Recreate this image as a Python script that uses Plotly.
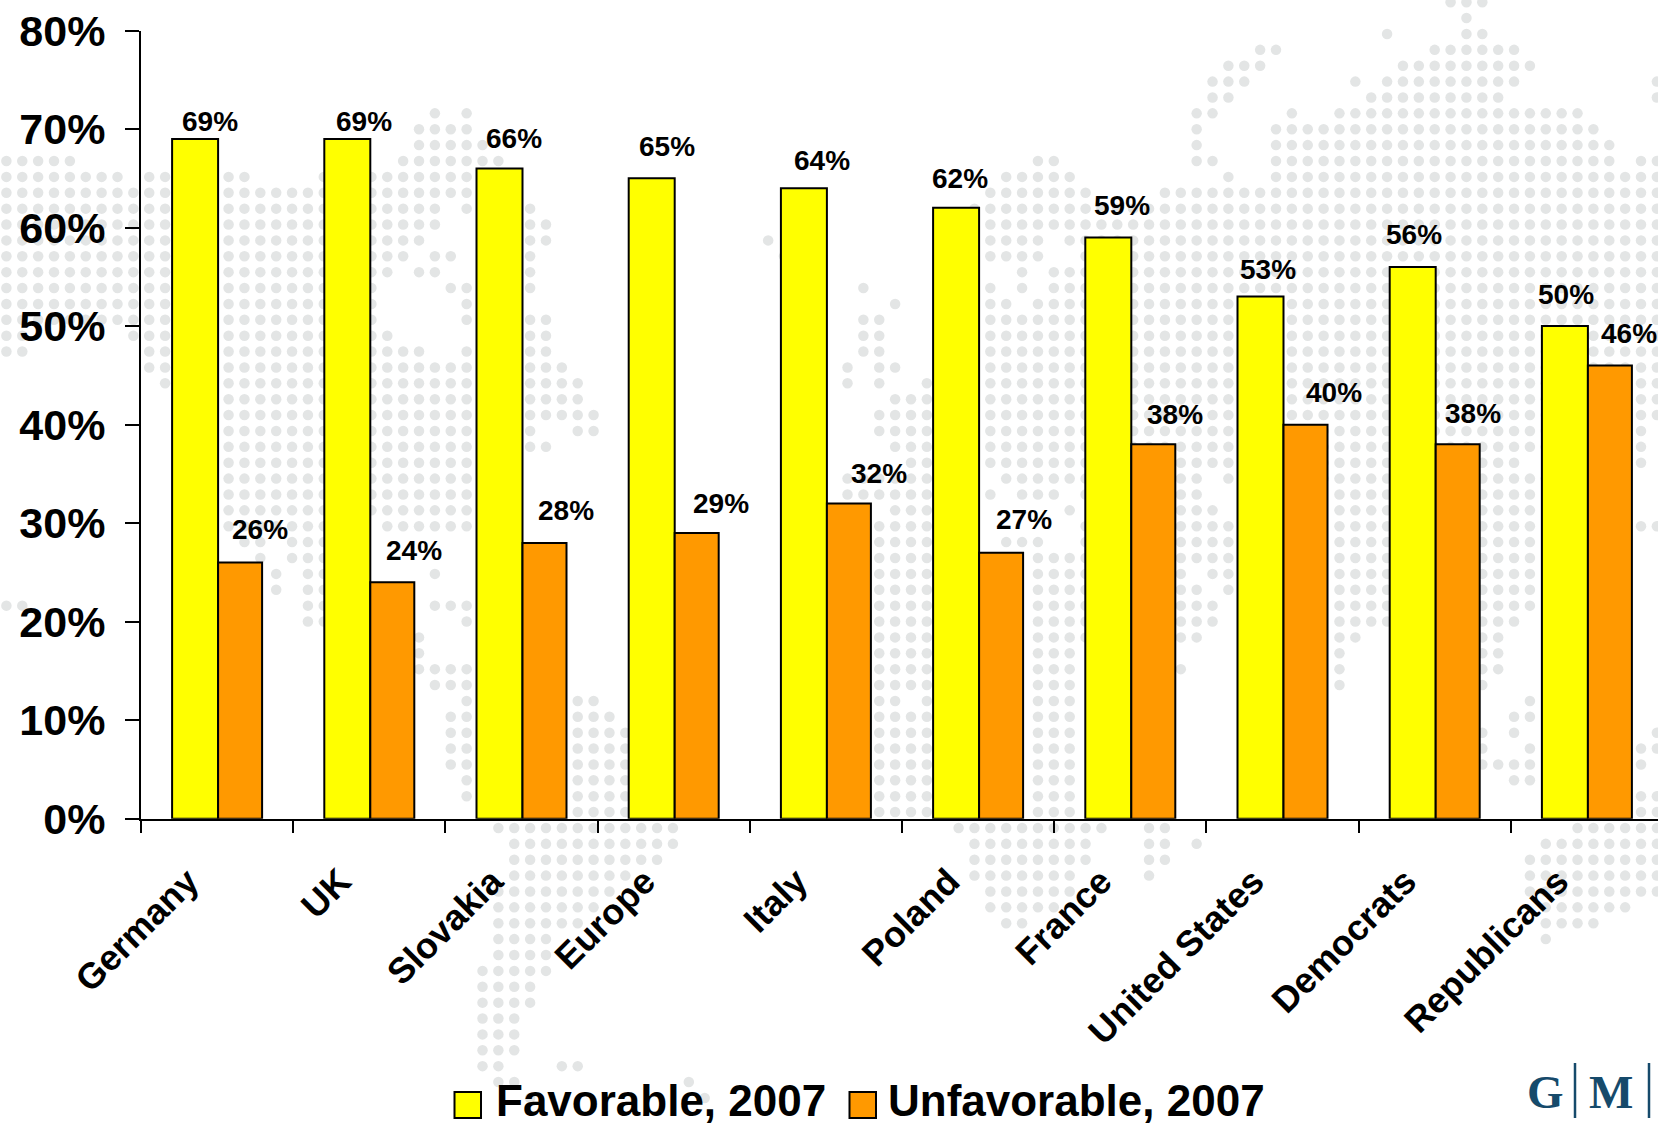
import plotly.graph_objects as go

# ---- chart data -------------------------------------------------------
categories = ["Germany", "UK", "Slovakia", "Europe", "Italy", "Poland", "France",
              "United States", "Democrats", "Republicans"]
favorable = [69, 69, 66, 65, 64, 62, 59, 53, 56, 50]
unfavorable = [26, 24, 28, 29, 32, 27, 38, 40, 38, 46]
series_names = ["Favorable, 2007", "Unfavorable, 2007"]

# individual label nudges as seen in the picture (px from bar group centre / bar top)
fav_label_dx = [-7, -5, -8, -7, -4, -18, -8, -15, -21, -21]
fav_label_dy = [17, 17, 30, 32, 28, 29, 32, 27, 32, 32]
unf_label_dx = [43, 45, 44, 47, 53, 46, 45, 51, 38, 42]
unf_label_dy = [33, 32, 32, 30, 30, 33, 30, 32, 31, 32]

# ---- decorative dotted world map: grid row -> column runs --------------
map_rows = {
    0: "91-93", 1: "92", 2: "87 92-93", 3: "79-80 90-95", 4: "77-79 88-96",
    5: "76-78 85 87-95 104", 6: "76-77 86-94 104", 7: "27 29 75-76 81 84-99",
    8: "26-29 75 80-100", 9: "26-30 75 80-101",
    10: "0-4 25-31 65-66 75-76 80-101 103-104",
    11: "0-7 9-10 14-15 20-29 63-67 77 80-104",
    12: "0-10 14-29 62-68 73-104",
    13: "0-10 14-27 29 33 61-104",
    14: "0-10 14-27 33-34 62-104",
    15: "0-10 14-26 33-34 48 62-65 67-104",
    16: "0-10 14-25 27-28 33 49 62-65 68-104",
    17: "0-10 14-24 26-27 33 64 66-104",
    18: "0-10 14-23 28-29 33 54 62 64 66-104",
    19: "0-10 14-23 29 56 62-63 65-104",
    20: "0-10 14-23 29 33-34 54-55 62-104",
    21: "0-1 8-10 14-24 33-34 54-55 62-104",
    22: "0-1 9-10 14-26 29 33-34 54-55 62-104",
    23: "9-10 14-29 33-35 53 55-56 62-104",
    24: "10 14-29 33-36 53 55 58 62-104",
    25: "14-29 33-36 56-58 62-104",
    26: "14-29 33-37 55-58 62-104",
    27: "14-29 33 36-37 55-58 62-103",
    28: "14-29 33-34 56-58 62-103",
    29: "14-29 57-58 62-95 103",
    30: "14-29 53-58 63-75 77-97",
    31: "14-29 53-58 62 64-66 68-75 84-96",
    32: "14-29 56-58 67 69-76 84-96",
    33: "14-20 24-29 55-58 68-77 84-96 103-104",
    34: "15-16 18-20 55-58 63-65 68-77 84-96",
    35: "16 18-20 55-58 65-77 84-96",
    36: "17 19-20 27 55-58 65-74 76-77 84-96",
    37: "17 19-20 55-58 65-75 77 84-96",
    38: "0-1 19-20 27-29 55-58 65-76 84-96",
    39: "19-20 29 55-58 65-76 84-95",
    40: "26 55-58 65-75 84-85 93-94",
    41: "26 55-58 65-67 84 93-94",
    42: "26-29 55-58 65-67 74 84 93-94",
    43: "27-29 55-58 65-67 84 93",
    44: "29 36-37 55-56 58 65-67 96",
    45: "28-29 36-38 55-58 65-67 95-96",
    46: "28-29 35-39 55-58 65-67 93 95 104",
    47: "28-29 35-39 55-58 65-67 93 96 103-104",
    48: "28-29 35-39 55-58 65-67 93-96 103",
    49: "29 35-39 55-58 65-67 95-96",
    50: "29 35-39 55-58 65-67 103-104",
    51: "35-39 55-58 65-67 103-104",
    52: "31-42 60-69 72-73 99-104",
    53: "32-42 61-68 72-73 75 97-104",
    54: "32-41 61-68 72-73 96-104",
    55: "32-39 61-67 72 96-104",
    56: "31-38 62-67 96-104",
    57: "31-37 62-66 97-102",
    58: "31-36 63-64 97-100",
    59: "31-34 97",
    60: "31-34", 61: "30-34", 62: "30-33", 63: "30-33", 64: "30-32",
    65: "30-32", 66: "30-32", 67: "30-31 35-36", 68: "31-32 43", 69: "33 44",
}


def expand(runs):
    out = []
    for run in runs.split():
        a, _, b = run.partition("-")
        out.extend(range(int(a), int(b or a) + 1))
    return out


map_x, map_y = [], []
for row, runs in map_rows.items():
    for col in expand(runs):
        map_x.append(col)
        map_y.append(row)

W, H = 1658, 1125
X0, Y0, YTOP = 141, 818.8, 30.5
FONT = "Liberation Sans"
BAND = 152.2


def px(v):
    return v / W


def py(v):
    return 1 - v / H


fig = go.Figure()

# background dots live on their own full-page axes (1 unit = one grid step)
fig.add_trace(go.Scatter(
    x=map_x, y=map_y, mode="markers", hoverinfo="skip", showlegend=False,
    marker=dict(size=10.5, color="#e3e5e5", line=dict(width=0)),
    xaxis="x", yaxis="y",
))

fig.add_trace(go.Bar(x=categories, y=favorable, name=series_names[0], xaxis="x2", yaxis="y2",
                     width=46 / BAND, offset=-45 / BAND,
                     marker=dict(color="#ffff00", line=dict(color="#000000", width=2))))
fig.add_trace(go.Bar(x=categories, y=unfavorable, name=series_names[1], xaxis="x2", yaxis="y2",
                     width=44 / BAND, offset=1 / BAND,
                     marker=dict(color="#ff9900", line=dict(color="#000000", width=2))))

annotations = []
for cat, v, dx, dy in list(zip(categories, favorable, fav_label_dx, fav_label_dy)) + \
        list(zip(categories, unfavorable, unf_label_dx, unf_label_dy)):
    annotations.append(dict(
        x=cat, y=v, xref="x2", yref="y2", text=f"{v}%", showarrow=False,
        xshift=dx, yshift=dy, xanchor="center", yanchor="middle",
        font=dict(family=FONT, size=28, color="#000000", weight=700),
    ))

# legend
shapes = []
for (x0, x1), colour, name, tx in [((454.5, 481), "#ffff00", series_names[0], 495),
                                   ((849.5, 876), "#ff9900", series_names[1], 887)]:
    shapes.append(dict(type="rect", xref="paper", yref="paper", layer="above",
                       x0=px(x0), x1=px(x1), y0=py(1118), y1=py(1092),
                       fillcolor=colour, line=dict(color="#000000", width=2)))
    annotations.append(dict(xref="paper", yref="paper", x=px(tx), y=py(1100), text=name,
                            showarrow=False, xanchor="left", yanchor="middle", borderpad=0,
                            font=dict(family=FONT, size=44, color="#000000", weight=700)))

# logo
LOGO = "#164a6b"
for tx, letter in [(1545, "G"), (1611, "M")]:
    annotations.append(dict(xref="paper", yref="paper", x=px(tx), y=py(1092), text=letter,
                            showarrow=False, xanchor="center", yanchor="middle",
                            font=dict(family="Liberation Serif", size=47, color=LOGO, weight=700)))
for lx in (1575, 1649):
    shapes.append(dict(type="line", xref="paper", yref="paper", x0=px(lx), x1=px(lx),
                       y0=py(1118), y1=py(1063), line=dict(color=LOGO, width=2.5)))

fig.update_layout(
    width=W, height=H, margin=dict(l=0, r=0, t=0, b=0, pad=0), autosize=False,
    paper_bgcolor="#ffffff", plot_bgcolor="rgba(0,0,0,0)",
    showlegend=False, barmode="overlay",
    annotations=annotations, shapes=shapes,
    xaxis=dict(domain=[0, 1], range=[-6.4 / 15.87, (W - 6.4) / 15.87], visible=False,
               fixedrange=True, automargin=False),
    yaxis=dict(domain=[0, 1], range=[(H - 2.2) / 15.88, -2.2 / 15.88], visible=False,
               fixedrange=True, automargin=False),
    xaxis2=dict(
        domain=[px(X0), 1], anchor="y2", type="category", automargin=False,
        categoryorder="array", categoryarray=categories,
        range=[-0.5, -0.5 + (W - X0) / BAND],
        showgrid=False, zeroline=False, showline=True, linecolor="#000000", linewidth=2,
        ticks="outside", ticklen=12, tickwidth=2, tickcolor="#000000", tickson="boundaries",
        tickangle=-45, ticklabelstandoff=25, ticklabelshift=-29,
        tickfont=dict(family=FONT, size=36, color="#000000", weight=700),
    ),
    yaxis2=dict(
        domain=[py(Y0), py(YTOP)], anchor="x2", range=[0, 80], dtick=10, ticksuffix="%",
        automargin=False,
        showgrid=False, zeroline=False, showline=True, linecolor="#000000", linewidth=2,
        ticks="outside", ticklen=14, tickwidth=2, tickcolor="#000000", ticklabelstandoff=11,
        tickfont=dict(family=FONT, size=43, color="#000000", weight=700),
    ),
)

fig.write_html("out.html", config={"displayModeBar": False},
               post_script="document.body.style.margin='0';")
